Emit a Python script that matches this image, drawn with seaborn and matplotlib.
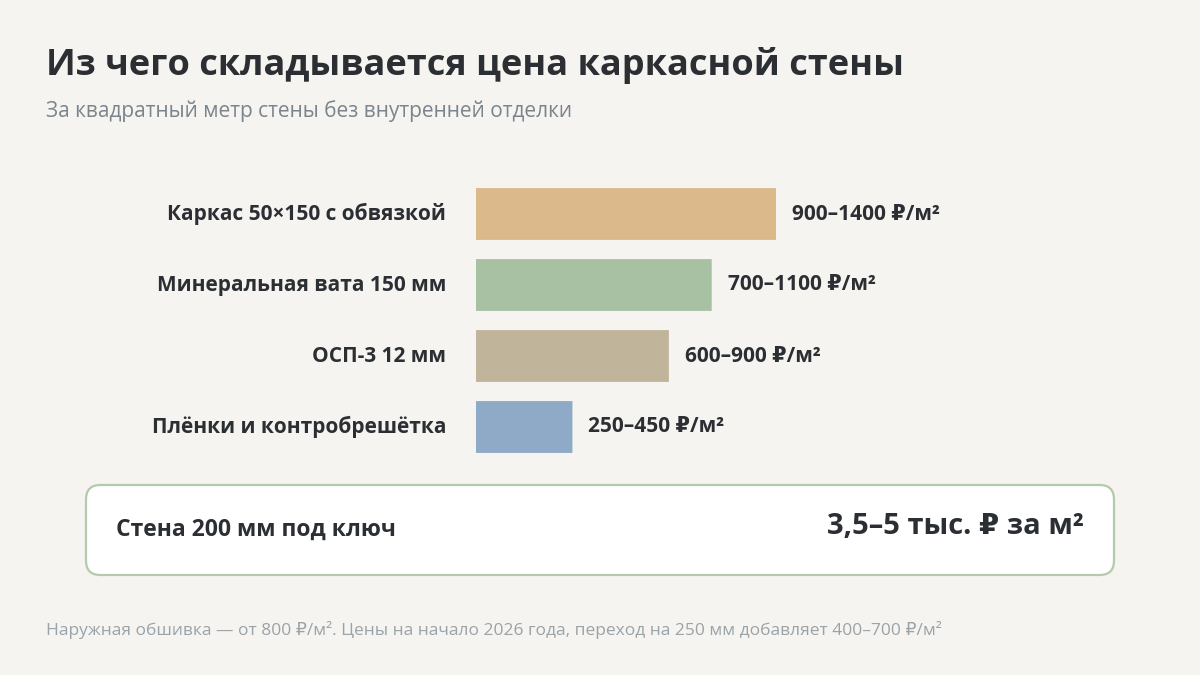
import matplotlib
matplotlib.use("Agg")
import matplotlib.pyplot as plt
import seaborn as sns
import pandas as pd
from matplotlib.patches import FancyBboxPatch

categories = ["Каркас 50×150 с обвязкой", "Минеральная вата 150 мм", "ОСП-3 12 мм", "Плёнки и контробрешётка"]
upper = [1400, 1100, 900, 450]
value_labels = ["900–1400 ₽/м²", "700–1100 ₽/м²", "600–900 ₽/м²", "250–450 ₽/м²"]
colors = ["#dbb98a", "#a9c1a3", "#c0b49a", "#8faac6"]
title = "Из чего складывается цена каркасной стены"
subtitle = "За квадратный метр стены без внутренней отделки"
total_label = "Стена 200 мм под ключ"
total_value = "3,5–5 тыс. ₽ за м²"
footer = "Наружная обшивка — от 800 ₽/м². Цены на начало 2026 года, переход на 250 мм добавляет 400–700 ₽/м²"

sns.set_theme(style="white")
plt.rcParams['font.family'] = ['Open Sans', 'DejaVu Sans']
BG = "#f6f4f0"
DARK = "#2b2f33"

W, H = 1200, 675
fig = plt.figure(figsize=(12, 6.75), dpi=100, facecolor=BG)

def fx(px): return px / W
def fy(py): return 1 - py / H

ax = fig.add_axes([fx(476), fy(462.5), fx(1100) - fx(476), (462.5 - 178.5) / H])
ax.set_facecolor("none")
df = pd.DataFrame({"cat": categories, "val": upper})
sns.barplot(data=df, x="val", y="cat", hue="cat", palette=colors, orient="h",
            width=0.73, ax=ax, legend=False, saturation=1)
for p in ax.patches:
    p.set_visible(False)
    bb = p.get_bbox()
    ax.add_patch(FancyBboxPatch((bb.x0, bb.y0), bb.width, bb.height,
                                boxstyle="round,pad=0,rounding_size=0.04",
                                mutation_aspect=1, facecolor=p.get_facecolor(),
                                edgecolor="none"))
scale = 1400 / 300
ax.set_xlim(0, 624 * scale)
ax.set_ylim(3.5, -0.5)
for i, (v, lab) in enumerate(zip(upper, value_labels)):
    ax.text(v + 16 * scale, i, lab, va="center", ha="left", fontsize=15,
            fontweight="bold", color=DARK)
    ax.text(-30 * scale, i, categories[i], va="center", ha="right", fontsize=15,
            fontweight="bold", color=DARK, clip_on=False)
ax.set_xlabel(""); ax.set_ylabel("")
ax.set_xticks([]); ax.set_yticks([])
for s in ax.spines.values():
    s.set_visible(False)

box = FancyBboxPatch((fx(86), fy(575)), fx(1114) - fx(86), (575 - 485) / H,
                     boxstyle="round,pad=0,rounding_size=0.012",
                     transform=fig.transFigure, facecolor="white",
                     edgecolor="#b5c9ad", linewidth=1.6, mutation_aspect=16/9)
fig.patches.append(box)
fig.text(fx(116), fy(530), total_label, ha="left", va="center", fontsize=16.5,
         fontweight="bold", color=DARK)
fig.text(fx(1084), fy(527), total_value, ha="right", va="center", fontsize=21,
         fontweight="bold", color=DARK)

fig.text(fx(46), fy(66), title, ha="left", va="center", fontsize=26,
         fontweight="bold", color=DARK)
fig.text(fx(46), fy(111), subtitle, ha="left", va="center", fontsize=15,
         color="#7a848c")
fig.text(fx(46), fy(630), footer, ha="left", va="center", fontsize=12.5,
         color="#9aa3a8")

fig.savefig("out.png", dpi=100, facecolor=BG)
